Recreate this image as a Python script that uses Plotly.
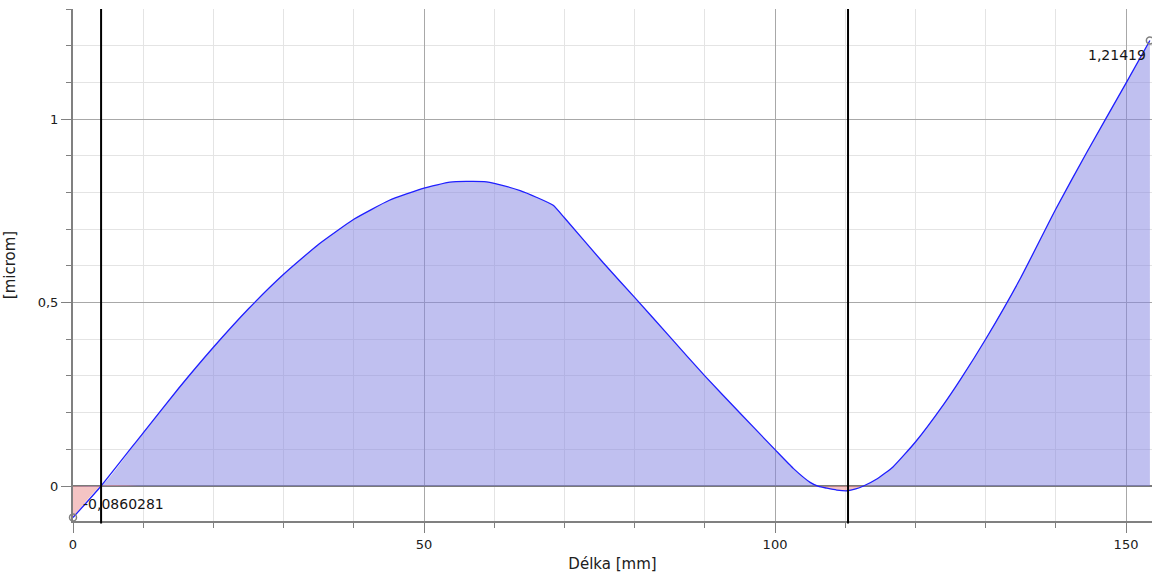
import plotly.graph_objects as go

# Profile data (position in mm, deviation in microm)
x_mm = [0, 4.0, 10, 15, 20, 25, 30, 35, 40, 45, 50, 53.7, 56, 58.9, 60, 63.7, 66,
        68.4, 70, 75.5, 80, 85, 90, 95, 100, 102.6, 105, 106.2, 107.4, 108.8, 110.3,
        111.5, 112.6, 114.5, 116.8, 120, 124, 126.4, 130, 134.9, 140, 144.4, 150, 153.4]
y_um = [-0.0860281, 0.0, 0.145, 0.265, 0.378, 0.483, 0.577, 0.659, 0.727, 0.778,
        0.812, 0.828, 0.830, 0.829, 0.825, 0.805, 0.787, 0.765, 0.731, 0.609,
        0.514, 0.407, 0.300, 0.199, 0.099, 0.048, 0.010, -0.001, -0.006, -0.011,
        -0.013, -0.008, 0.0, 0.019, 0.052, 0.120, 0.222, 0.290, 0.400, 0.564,
        0.755, 0.909, 1.098, 1.21419]

marker_lines_mm = [4.0, 110.4]
x_ticks = [0, 50, 100, 150]
y_ticks = [0, 0.5, 1]
x_title = "Délka [mm]"
y_title = "[microm]"
min_label = "-0,0860281"
max_label = "1,21419"

FONT = "DejaVu Sans"
SMOOTH = 0.45

y_pos = [max(v, 0) for v in y_um]
y_neg = [min(v, 0) for v in y_um]

fig = go.Figure()
fig.add_trace(go.Scatter(x=x_mm, y=y_pos, mode="lines",
                         line=dict(width=0, shape="spline", smoothing=SMOOTH),
                         fill="tozeroy", fillcolor="rgba(129,129,225,0.5)",
                         hoverinfo="skip", showlegend=False))
fig.add_trace(go.Scatter(x=x_mm, y=y_neg, mode="lines",
                         line=dict(width=0, shape="spline", smoothing=SMOOTH),
                         fill="tozeroy", fillcolor="rgba(233,137,137,0.5)",
                         hoverinfo="skip", showlegend=False))
fig.add_trace(go.Scatter(x=x_mm, y=y_um, mode="lines",
                         line=dict(color="#1f1fff", width=1.3, shape="spline",
                                   smoothing=SMOOTH),
                         showlegend=False))
fig.add_trace(go.Scatter(x=[x_mm[0], x_mm[-1]], y=[y_um[0], y_um[-1]], mode="markers",
                         marker=dict(symbol="circle-open", size=7,
                                     color="#808080", line=dict(width=1.5)),
                         cliponaxis=False, showlegend=False))

for xv in marker_lines_mm:
    fig.add_shape(type="line", xref="x", yref="paper", x0=xv, x1=xv, y0=-0.005, y1=1,
                  line=dict(color="black", width=2))

fig.add_annotation(x=x_mm[0], y=y_um[0], text=min_label, showarrow=False,
                   xanchor="left", yanchor="bottom", xshift=8, yshift=4,
                   font=dict(family=FONT, size=14, color="#151515"))
fig.add_annotation(x=x_mm[-1], y=y_um[-1], text=max_label, showarrow=False,
                   xanchor="right", yanchor="top", xshift=-2, yshift=-5,
                   font=dict(family=FONT, size=14, color="#151515"))

fig.update_layout(
    width=1152, height=579,
    margin=dict(l=73, r=0, t=9, b=58),
    paper_bgcolor="white", plot_bgcolor="white",
    separators=", ",
    font=dict(family=FONT, size=13, color="#202020"),
    xaxis=dict(range=[0, 153.7], tickvals=x_ticks, ticks="outside", ticklen=10,
               tickcolor="#808080", showgrid=True, gridcolor="#a8a8a8", gridwidth=1,
               minor=dict(dtick=10, tick0=0, ticks="outside", ticklen=5,
                          tickcolor="#808080", showgrid=True, gridcolor="#e4e4e4"),
               showline=True, linecolor="#808080", linewidth=2, zeroline=False,
               title=dict(text=x_title, font=dict(family=FONT, size=15), standoff=8),
               tickfont=dict(family=FONT, size=13)),
    yaxis=dict(range=[-0.0954, 1.3], tickvals=y_ticks, ticks="outside", ticklen=10,
               tickcolor="#808080", showgrid=True, gridcolor="#a8a8a8", gridwidth=1,
               minor=dict(dtick=0.1, tick0=0, ticks="outside", ticklen=5,
                          tickcolor="#808080", showgrid=True, gridcolor="#e4e4e4"),
               showline=True, linecolor="#808080", linewidth=2,
               zeroline=True, zerolinecolor="#7a7a7a", zerolinewidth=1.5,
               title=dict(text=y_title, font=dict(family=FONT, size=15), standoff=18),
               tickfont=dict(family=FONT, size=13)),
)

fig.write_html("out.html")
